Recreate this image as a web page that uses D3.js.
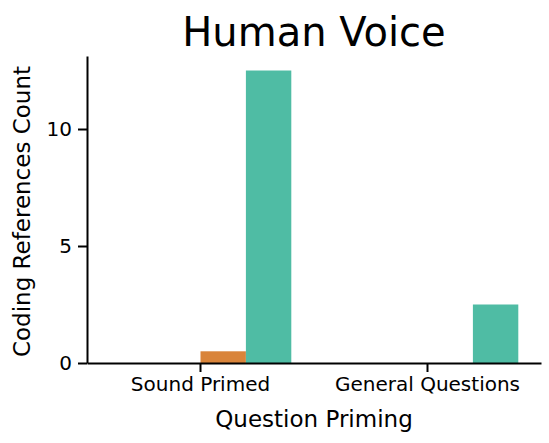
<!DOCTYPE html>
<html><head><meta charset="utf-8">
<script src="https://cdn.jsdelivr.net/npm/d3@7"></script>
<style>body{margin:0;background:#fff}svg{font-family:"DejaVu Sans",sans-serif}</style>
</head><body><svg id="c" width="549" height="443"></svg>
<script>
const categories=["Sound Primed","General Questions"];
const hues=["h0","h1","h2","h3"];
const colors=["#4c72b0","#6a9fd0","#d9843a","#4fbca4"];
const values=[[0,0,0.5,12.5],[0,0,0,2.5]];
const yTicks=[0,5,10];
const svg=d3.select("#c");
const L=87,R=541,T=56,B=363;
const x=d3.scaleBand().domain(categories).range([L,R]).paddingInner(0.2).paddingOuter(0.1);
const xs=d3.scaleBand().domain(hues).range([0,x.bandwidth()]);
const y=d3.scaleLinear().domain([0,13.12]).range([B,T]);
categories.forEach((c,i)=>{
  svg.selectAll(null).data(values[i]).enter().append("rect")
   .attr("x",(d,j)=>x(c)+xs(hues[j])).attr("width",xs.bandwidth())
   .attr("y",d=>y(d)).attr("height",d=>B-y(d))
   .attr("fill",(d,j)=>colors[j]);
});
const xa=svg.append("g").attr("transform",`translate(0,${B})`)
 .call(d3.axisBottom(x).tickSize(9).tickPadding(5).tickSizeOuter(0));
const ya=svg.append("g").attr("transform",`translate(${L},0)`)
 .call(d3.axisLeft(y).tickValues(yTicks).tickSize(9).tickPadding(6).tickSizeOuter(0));
[xa,ya].forEach(a=>{a.attr("font-size",null).attr("font-family",null);
 a.selectAll("path,line").attr("stroke","#000").attr("stroke-width",2);
 a.selectAll("text").style("font-size","20px").attr("fill","#000");});
svg.append("text").attr("x",314).attr("y",427).attr("text-anchor","middle").style("font-size","23px").text("Question Priming");
svg.append("text").attr("transform",`translate(30,${(T+B)/2+2}) rotate(-90)`).attr("text-anchor","middle").style("font-size","23px").text("Coding References Count");
svg.append("text").attr("x",314).attr("y",46).attr("text-anchor","middle").style("font-size","40px").text("Human Voice");
</script></body></html>
